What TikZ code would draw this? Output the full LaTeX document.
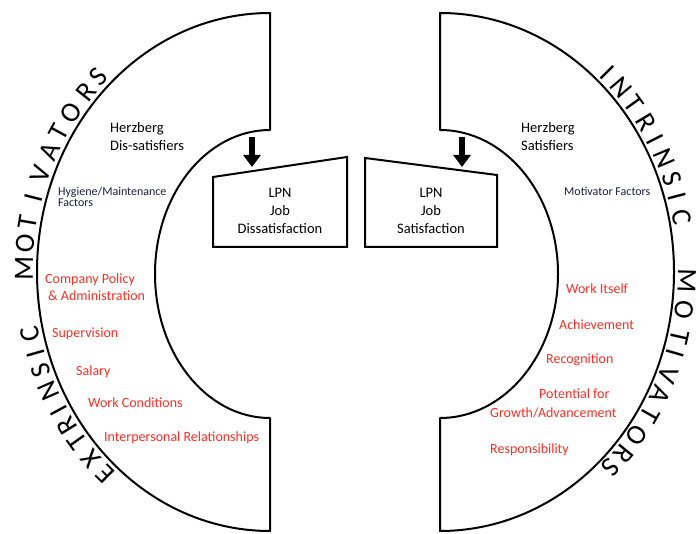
\documentclass[tikz,border=0pt]{standalone}
\usepackage{fontspec}
\setmainfont{Carlito}
\usetikzlibrary{arrows.meta}
\definecolor{redtxt}{RGB}{255,45,35}
\definecolor{navytxt}{RGB}{30,30,60}
\begin{document}
\begin{tikzpicture}[x=1pt,y=1pt,
  shapeline/.style={draw=black,line width=2pt,line join=round},
  boxline/.style={draw=black,line width=2pt,line join=miter},
  arr/.style={draw=black,line width=6pt,-{Triangle[width=17pt,length=12pt]}},
  blk/.style={font=\fontsize{14.5}{17}\selectfont,inner sep=0pt,text=black},
  sml/.style={font=\fontsize{12}{12}\selectfont,inner sep=0pt,anchor=base west,text=navytxt},
  redl/.style={font=\fontsize{14}{17}\selectfont,inner sep=0pt,anchor=base west,text=redtxt},
  letter/.style={font=\fontsize{28}{28}\selectfont,inner sep=0pt,text height=18pt,text depth=0pt,anchor=center}
]
\useasboundingbox (0,0) rectangle (698,533);

% left shape
\draw[shapeline] (270,2) arc[start angle=270,end angle=90,x radius=233,y radius=259]
  -- (270,403) arc[start angle=90,end angle=270,x radius=115,y radius=144] -- cycle;
% right shape
\draw[shapeline] (440,2) arc[start angle=-90,end angle=90,x radius=234,y radius=259]
  -- (440,403) arc[start angle=90,end angle=-90,x radius=118,y radius=144] -- cycle;

% boxes
\draw[boxline] (213,356) -- (347,376) -- (347,286) -- (213,286) -- cycle;
\draw[boxline] (365,375) -- (497,358) -- (497,286) -- (365,286) -- cycle;

% arrows
\coordinate (la0) at (252,396);
\coordinate (la1) at (252,366);
\coordinate (ra0) at (462,396);
\coordinate (ra1) at (462,366);
\draw[arr] (la0) -- (la1);
\draw[arr] (ra0) -- (ra1);

% box texts
\node[blk,anchor=base] (lb1) at (280,335) {LPN};
\node[blk,anchor=base] (lb2) at (280,317) {Job};
\node[blk,anchor=base] (lb3) at (280,299) {Dissatisfaction};
\node[blk,anchor=base] (rb1) at (431,335) {LPN};
\node[blk,anchor=base] (rb2) at (431,317) {Job};
\node[blk,anchor=base] (rb3) at (431,299) {Satisfaction};

% headings
\node[blk,anchor=base west] (hzL1) at (110,400) {Herzberg};
\node[blk,anchor=base west] (hzL2) at (110,382) {Dis-satisfiers};
\node[sml] (hyg1) at (58,337) {Hygiene/Maintenance};
\node[sml] (hyg2) at (58,326) {Factors};
\node[blk,anchor=base west] (hzR1) at (521,400) {Herzberg};
\node[blk,anchor=base west] (hzR2) at (521,382) {Satisfiers};
\node[sml] (mot) at (564,337) {Motivator Factors};

% red factors left
\node[redl] (f1) at (45,249) {Company Policy};
\node[redl] (f2) at (48,232) {\& Administration};
\node[redl] (f3) at (52,195) {Supervision};
\node[redl] (f4) at (76,158) {Salary};
\node[redl] (f5) at (88,126) {Work Conditions};
\node[redl] (f6) at (104,92) {Interpersonal Relationships};
% red factors right
\node[redl] (g1) at (566,239) {Work Itself};
\node[redl] (g2) at (559,203) {Achievement};
\node[redl] (g3) at (546,170) {Recognition};
\node[redl] (g4) at (539,135) {Potential for};
\node[redl] (g5) at (490,116) {Growth/Advancement};
\node[redl] (g6) at (490,80) {Responsibility};

% curved letters left
\foreach \ch/\t [count=\k] in {E/228.0,X/223.3,T/218.4,R/214.4,I/210.7,N/206.0,S/201.2,I/197.5,C/193.2,M/179.2,O/173.9,T/169.5,I/164.1,V/158.8,A/153.7,T/149.0,O/144.1,R/138.5,S/134.2}{
  \pgfmathsetmacro\rot{atan2(246*sin(\t),272*cos(\t))-90}
  \node[letter,rotate=\rot] (L\k) at ({270+246*cos(\t)},{261+272*sin(\t)}) {\ch};
}
% curved letters right
\foreach \ch/\t [count=\k] in {I/47.5,N/42.9,T/38.3,R/33.4,I/29.2,N/24.8,S/20.2,I/16.2,C/11.7,M/-1.9,O/-8.0,T/-13.9,I/-17.5,V/-22.3,A/-26.9,T/-31.7,O/-37.1,R/-42.1,S/-46.2}{
  \pgfmathsetmacro\rot{atan2(247*sin(\t),271*cos(\t))-90}
  \node[letter,rotate=\rot] (R\k) at ({440+247*cos(\t)},{261+271*sin(\t)}) {\ch};
}
\end{tikzpicture}
\end{document}
